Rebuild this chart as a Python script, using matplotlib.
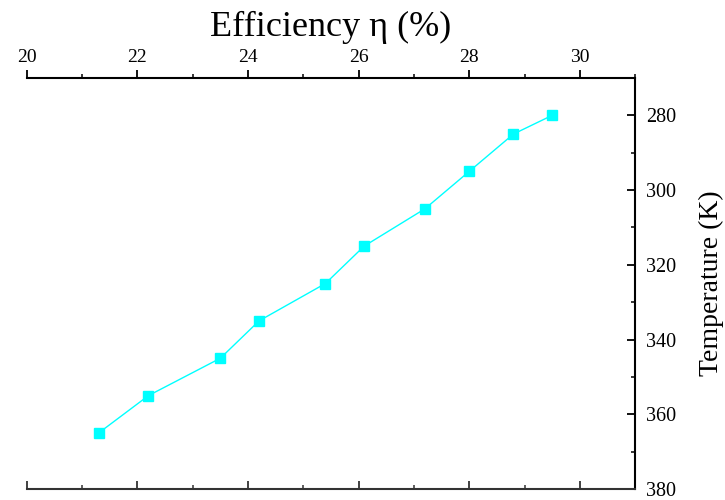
import matplotlib.pyplot as plt
from matplotlib.ticker import MultipleLocator

# dane
efficiency = [21.3, 22.2, 23.5, 24.2, 25.4, 26.1, 27.2, 28.0, 28.8, 29.5]
temperature = [365, 355, 345, 335, 325, 315, 305, 295, 285, 280]

plt.rcParams['font.family'] = ['Liberation Serif', 'DejaVu Serif']

fig = plt.figure(figsize=(7.25, 5), dpi=100)
ax = fig.add_axes([0.037, 0.022, 0.839, 0.822])

ax.plot(efficiency, temperature, color='cyan', lw=1, marker='s', ms=7,
        markeredgecolor='cyan')

ax.set_xlim(20, 31)
ax.set_ylim(380, 270)

# os x na gorze
ax.xaxis.set_ticks_position('top')
ax.xaxis.set_label_position('top')
ax.xaxis.set_major_locator(MultipleLocator(2))
ax.xaxis.set_minor_locator(MultipleLocator(1))
ax.tick_params(axis='x', which='major', direction='out', length=6, width=1.3,
               labelsize=14, pad=3)
ax.tick_params(axis='x', which='minor', direction='out', length=3, width=1.1)
ax.set_xlabel('Efficiency η (%)', fontsize=26, labelpad=9)

# os y po prawej
ax.yaxis.set_ticks_position('right')
ax.yaxis.set_label_position('right')
ax.yaxis.set_minor_locator(MultipleLocator(10))
ax.set_yticks([280, 300, 320, 340, 360, 380])
ax.tick_params(axis='y', which='major', direction='in', length=6, width=1.3,
               labelsize=14.5, pad=8)
ax.tick_params(axis='y', which='minor', direction='in', length=3, width=1.1)
ax.set_ylabel('Temperature (K)', fontsize=20, labelpad=16)

ax.spines['left'].set_visible(False)
for s in ['top', 'right']:
    ax.spines[s].set_linewidth(1.5)
ax.spines['bottom'].set_linewidth(1.5)
ax.spines['bottom'].set_color('#333333')

# dolna os - tylko znaczniki do srodka
bx = ax.secondary_xaxis('bottom')
bx.xaxis.set_major_locator(MultipleLocator(2))
bx.xaxis.set_minor_locator(MultipleLocator(1))
bx.tick_params(which='major', direction='in', length=6, width=1.3,
               labelbottom=False, color='#333333')
bx.tick_params(which='minor', direction='in', length=3, width=1.1,
               color='#333333')
bx.spines['bottom'].set_visible(False)

fig.savefig('out.png', dpi=100)
